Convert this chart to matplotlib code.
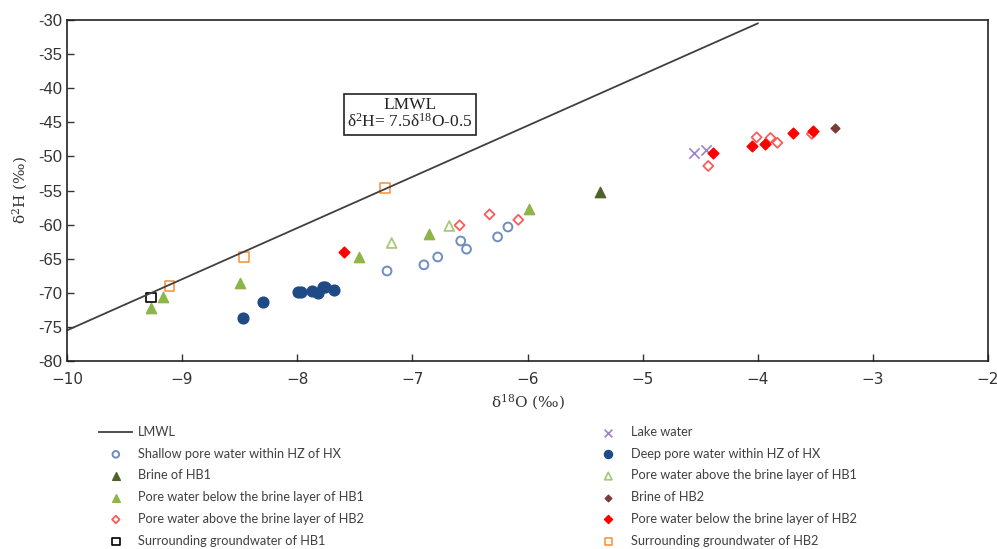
# d2H vs d18O scatter with the local meteoric water line (LMWL)

import matplotlib
matplotlib.use("Agg")
import matplotlib.pyplot as plt
import numpy as np

# --- Data -------------------------------------------------------------
lmwl_x = [-10, -4]

lake_x = [-4.55, -4.45]
lake_y = [-49.5, -49.1]

shallow_x = [-7.22, -6.90, -6.78, -6.58, -6.53, -6.26, -6.17]
shallow_y = [-66.8, -65.9, -64.75, -62.4, -63.6, -61.8, -60.35]

deep_x = [-8.47, -8.30, -7.99, -7.97, -7.87, -7.82, -7.78, -7.76, -7.68]
deep_y = [-73.7, -71.3, -69.9, -69.9, -69.7, -70.0, -69.1, -69.1, -69.6]

brine_hb1_x = [-5.37]
brine_hb1_y = [-55.2]

above_hb1_x = [-7.18, -6.68]
above_hb1_y = [-62.7, -60.2]

below_hb1_x = [-9.27, -9.17, -8.50, -7.46, -6.86, -5.99]
below_hb1_y = [-72.2, -70.6, -68.6, -64.75, -61.4, -57.7]

brine_hb2_x = [-3.33]
brine_hb2_y = [-45.8]

above_hb2_x = [-6.59, -6.33, -6.08, -4.43, -4.01, -3.89, -3.83, -3.53]
above_hb2_y = [-60.1, -58.5, -59.3, -51.4, -47.2, -47.3, -48.0, -46.7]

below_hb2_x = [-7.59, -4.39, -4.05, -3.94, -3.69, -3.52]
below_hb2_y = [-64.0, -49.5, -48.5, -48.2, -46.6, -46.3]

surr_hb1_x = [-9.27]
surr_hb1_y = [-70.7]

surr_hb2_x = [-9.11, -8.46, -7.24]
surr_hb2_y = [-69.0, -64.7, -54.6]

x_ticks = np.arange(-10, -1, 1)
y_ticks = np.arange(-80, -29, 5)

# --- Plot -------------------------------------------------------------
fig = plt.figure(figsize=(9.97, 5.49), dpi=100)
ax = fig.add_axes([0.0672, 0.3424, 0.9238, 0.6212])

lx = np.array(lmwl_x)
h_lmwl, = ax.plot(lx, 7.5 * lx - 0.5, color="#404040", lw=1.3, label="LMWL")

h_lake = ax.scatter(lake_x, lake_y, marker="x", s=55, color="#9F80D0",
                    linewidths=1.2, label="Lake water")
h_shallow = ax.scatter(shallow_x, shallow_y, marker="o", s=40,
                       facecolors="none", edgecolors="#6F8DC0",
                       linewidths=1.4, label="Shallow pore water within HZ of HX")
h_deep = ax.scatter(deep_x, deep_y, marker="o", s=60, color="#1F4A85",
                    label="Deep pore water within HZ of HX")
h_brine1 = ax.scatter(brine_hb1_x, brine_hb1_y, marker="^", s=55,
                      color="#4F6228", label="Brine of HB1")
h_above1 = ax.scatter(above_hb1_x, above_hb1_y, marker="^", s=50,
                      facecolors="none", edgecolors="#A9C97A",
                      linewidths=1.3, label="Pore water above the brine layer of HB1")
h_below1 = ax.scatter(below_hb1_x, below_hb1_y, marker="^", s=55,
                      color="#8DB54A", label="Pore water below the brine layer of HB1")
h_brine2 = ax.scatter(brine_hb2_x, brine_hb2_y, marker="D", s=20,
                      color="#7B3B3B", label="Brine of HB2")
h_above2 = ax.scatter(above_hb2_x, above_hb2_y, marker="D", s=26,
                      facecolors="none", edgecolors="#FF5A5A",
                      linewidths=1.3, label="Pore water above the brine layer of HB2")
h_below2 = ax.scatter(below_hb2_x, below_hb2_y, marker="D", s=30,
                      color="#FF0000", label="Pore water below the brine layer of HB2")
h_surr1 = ax.scatter(surr_hb1_x, surr_hb1_y, marker="s", s=50,
                     facecolors="none", edgecolors="black",
                     linewidths=1.2, label="Surrounding groundwater of HB1")
h_surr2 = ax.scatter(surr_hb2_x, surr_hb2_y, marker="s", s=50,
                     facecolors="none", edgecolors="#F79646",
                     linewidths=1.2, label="Surrounding groundwater of HB2")

ax.set_xlim(-10, -2)
ax.set_ylim(-80, -30)
ax.set_xticks(x_ticks)
ax.set_yticks(y_ticks)
ax.set_yticklabels([str(v) for v in y_ticks], family="Liberation Sans",
                   fontsize=12, color="#333333")
ax.tick_params(direction="in", length=5, width=1, colors="#333333")
ax.tick_params(axis="x", labelsize=11, pad=8)
for sp in ax.spines.values():
    sp.set_linewidth(1.2)
    sp.set_color("#222222")

ax.set_xlabel(r"$\mathregular{\delta^{18}O}$ (‰)", family="DejaVu Serif",
              fontsize=11, labelpad=4, color="#333333")
ax.set_ylabel(r"$\mathregular{\delta^{2}H}$ (‰)", family="DejaVu Serif",
              fontsize=11, labelpad=6, color="#333333")

# equation box
ax.text(-7.02, -43.8,
        "LMWL\n" + r"$\mathregular{\delta^2H}$= 7.5$\mathregular{\delta^{18}O}$-0.5",
        family="Liberation Serif", fontsize=12.5, ha="center", va="center",
        linespacing=1.0, color="#222222",
        bbox=dict(boxstyle="square,pad=0.2", fc="white", ec="#222222", lw=1.2))

# legend: reorder so entries run row-wise like the original
col1 = [h_lmwl, h_shallow, h_brine1, h_below1, h_above2, h_surr1]
col2 = [h_lake, h_deep, h_above1, h_brine2, h_below2, h_surr2]
handles = col1 + col2
leg = fig.legend(handles, [h.get_label() for h in handles], ncol=2,
                 loc="upper left", bbox_to_anchor=(0.088, 0.245),
                 frameon=False, prop={"family": "Lato", "size": 9.2},
                 labelcolor="#404040", handlelength=2.6, handletextpad=0.45,
                 columnspacing=17.8, labelspacing=0.76, markerscale=0.75)

plt.savefig("out.png", dpi=100)
plt.close()
